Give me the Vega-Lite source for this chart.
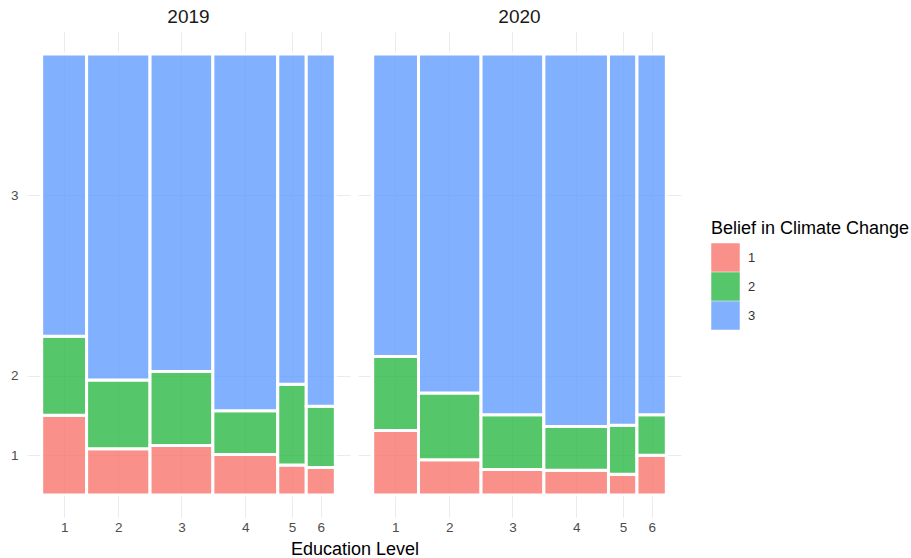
{
  "$schema": "https://vega.github.io/schema/vega-lite/v6.json",
  "padding": {"left": 10, "top": 8, "right": 0, "bottom": 0},
  "bounds": "flush",
  "config": {
    "font": "Liberation Sans",
    "view": {"stroke": null},
    "title": {"fontSize": 19, "fontWeight": "normal", "color": "#1a1a1a", "offset": 5},
    "axis": {
      "grid": true, "gridColor": "#ebebeb", "gridWidth": 1,
      "ticks": false, "domain": false,
      "labelFontSize": 13.5, "labelColor": "#4d4d4d"
    }
  },
  "data": {
    "values": [
      {"year": "2019", "edu": 1, "belief": "1", "edu_share": 0.153, "belief_share": 0.181},
      {"year": "2019", "edu": 1, "belief": "2", "edu_share": 0.153, "belief_share": 0.179},
      {"year": "2019", "edu": 1, "belief": "3", "edu_share": 0.153, "belief_share": 0.640},
      {"year": "2019", "edu": 2, "belief": "1", "edu_share": 0.216, "belief_share": 0.105},
      {"year": "2019", "edu": 2, "belief": "2", "edu_share": 0.216, "belief_share": 0.156},
      {"year": "2019", "edu": 2, "belief": "3", "edu_share": 0.216, "belief_share": 0.739},
      {"year": "2019", "edu": 3, "belief": "1", "edu_share": 0.214, "belief_share": 0.112},
      {"year": "2019", "edu": 3, "belief": "2", "edu_share": 0.214, "belief_share": 0.168},
      {"year": "2019", "edu": 3, "belief": "3", "edu_share": 0.214, "belief_share": 0.720},
      {"year": "2019", "edu": 4, "belief": "1", "edu_share": 0.221, "belief_share": 0.092},
      {"year": "2019", "edu": 4, "belief": "2", "edu_share": 0.221, "belief_share": 0.099},
      {"year": "2019", "edu": 4, "belief": "3", "edu_share": 0.221, "belief_share": 0.809},
      {"year": "2019", "edu": 5, "belief": "1", "edu_share": 0.097, "belief_share": 0.068},
      {"year": "2019", "edu": 5, "belief": "2", "edu_share": 0.097, "belief_share": 0.183},
      {"year": "2019", "edu": 5, "belief": "3", "edu_share": 0.097, "belief_share": 0.749},
      {"year": "2019", "edu": 6, "belief": "1", "edu_share": 0.099, "belief_share": 0.062},
      {"year": "2019", "edu": 6, "belief": "2", "edu_share": 0.099, "belief_share": 0.139},
      {"year": "2019", "edu": 6, "belief": "3", "edu_share": 0.099, "belief_share": 0.799},
      {"year": "2020", "edu": 1, "belief": "1", "edu_share": 0.156, "belief_share": 0.146},
      {"year": "2020", "edu": 1, "belief": "2", "edu_share": 0.156, "belief_share": 0.168},
      {"year": "2020", "edu": 1, "belief": "3", "edu_share": 0.156, "belief_share": 0.686},
      {"year": "2020", "edu": 2, "belief": "1", "edu_share": 0.213, "belief_share": 0.080},
      {"year": "2020", "edu": 2, "belief": "2", "edu_share": 0.213, "belief_share": 0.151},
      {"year": "2020", "edu": 2, "belief": "3", "edu_share": 0.213, "belief_share": 0.769},
      {"year": "2020", "edu": 3, "belief": "1", "edu_share": 0.214, "belief_share": 0.058},
      {"year": "2020", "edu": 3, "belief": "2", "edu_share": 0.214, "belief_share": 0.124},
      {"year": "2020", "edu": 3, "belief": "3", "edu_share": 0.214, "belief_share": 0.818},
      {"year": "2020", "edu": 4, "belief": "1", "edu_share": 0.220, "belief_share": 0.056},
      {"year": "2020", "edu": 4, "belief": "2", "edu_share": 0.220, "belief_share": 0.099},
      {"year": "2020", "edu": 4, "belief": "3", "edu_share": 0.220, "belief_share": 0.845},
      {"year": "2020", "edu": 5, "belief": "1", "edu_share": 0.097, "belief_share": 0.047},
      {"year": "2020", "edu": 5, "belief": "2", "edu_share": 0.097, "belief_share": 0.111},
      {"year": "2020", "edu": 5, "belief": "3", "edu_share": 0.097, "belief_share": 0.842},
      {"year": "2020", "edu": 6, "belief": "1", "edu_share": 0.100, "belief_share": 0.090},
      {"year": "2020", "edu": 6, "belief": "2", "edu_share": 0.100, "belief_share": 0.092},
      {"year": "2020", "edu": 6, "belief": "3", "edu_share": 0.100, "belief_share": 0.818}
    ]
  },
  "transform": [
    {"stack": "edu_share", "groupby": ["year", "belief"], "sort": [{"field": "edu", "order": "ascending"}], "offset": "normalize", "as": ["x0", "x1"]},
    {"stack": "belief_share", "groupby": ["year", "edu"], "sort": [{"field": "belief", "order": "ascending"}], "offset": "normalize", "as": ["y0", "y1"]}
  ],
  "spacing": 8,
  "hconcat": [
    {
      "title": "2019",
      "width": 323,
      "height": 485,
      "transform": [{"filter": "datum.year == '2019'"}],
      "mark": {"type": "rect", "fillOpacity": 0.8, "stroke": "white", "strokeWidth": 3},
      "encoding": {
        "x": {
          "field": "x0",
          "type": "quantitative",
          "scale": {"domain": [-0.05, 1.05], "nice": false, "zero": false},
          "title": "Education Level",
          "axis": {
            "values": [0.0765, 0.261, 0.476, 0.6935, 0.8525, 0.9505],
            "labelExpr": "datum.value < 0.15 ? '1' : datum.value < 0.35 ? '2' : datum.value < 0.55 ? '3' : datum.value < 0.75 ? '4' : datum.value < 0.9 ? '5' : '6'",
            "labelPadding": 3,
            "titleX": 327.5,
            "titleFontSize": 18, "titleColor": "#000000", "titleFontWeight": "normal", "titlePadding": 7
          }
        },
        "x2": {"field": "x1"},
        "y": {
          "field": "y0",
          "type": "quantitative",
          "scale": {"domain": [-0.05, 1.05], "nice": false, "zero": false},
          "title": null,
          "axis": {
            "values": [0.0905, 0.2705, 0.68],
            "labelExpr": "datum.value < 0.2 ? '1' : datum.value < 0.5 ? '2' : '3'",
            "labelPadding": 9
          }
        },
        "y2": {"field": "y1"},
        "color": {"field": "belief", "type": "nominal"}
      }
    },
    {
      "title": "2020",
      "width": 323,
      "height": 485,
      "transform": [{"filter": "datum.year == '2020'"}],
      "mark": {"type": "rect", "fillOpacity": 0.8, "stroke": "white", "strokeWidth": 3},
      "encoding": {
        "x": {
          "field": "x0",
          "type": "quantitative",
          "scale": {"domain": [-0.05, 1.05], "nice": false, "zero": false},
          "title": null,
          "axis": {
            "values": [0.0765, 0.261, 0.476, 0.6935, 0.8525, 0.9505],
            "labelExpr": "datum.value < 0.15 ? '1' : datum.value < 0.35 ? '2' : datum.value < 0.55 ? '3' : datum.value < 0.75 ? '4' : datum.value < 0.9 ? '5' : '6'",
            "labelPadding": 3
          }
        },
        "x2": {"field": "x1"},
        "y": {
          "field": "y0",
          "type": "quantitative",
          "scale": {"domain": [-0.05, 1.05], "nice": false, "zero": false},
          "title": null,
          "axis": {
            "values": [0.0905, 0.2705, 0.68],
            "labels": false
          }
        },
        "y2": {"field": "y1"},
        "color": {
          "field": "belief",
          "type": "nominal",
          "scale": {"domain": ["1", "2", "3"], "range": ["#F8766D", "#2BB843", "#619CFF"]},
          "legend": {
            "title": "Belief in Climate Change",
            "orient": "none",
            "legendX": 684,
            "legendY": 188,
            "titleFontSize": 18, "titleFontWeight": "normal", "titleColor": "#000000", "titlePadding": 5, "titleLimit": 400,
            "labelFontSize": 13, "labelColor": "#333333", "labelOffset": 8,
            "symbolType": "square", "symbolSize": 812, "symbolStrokeWidth": 0, "symbolOpacity": 0.8,
            "rowPadding": 0
          }
        }
      }
    }
  ]
}
